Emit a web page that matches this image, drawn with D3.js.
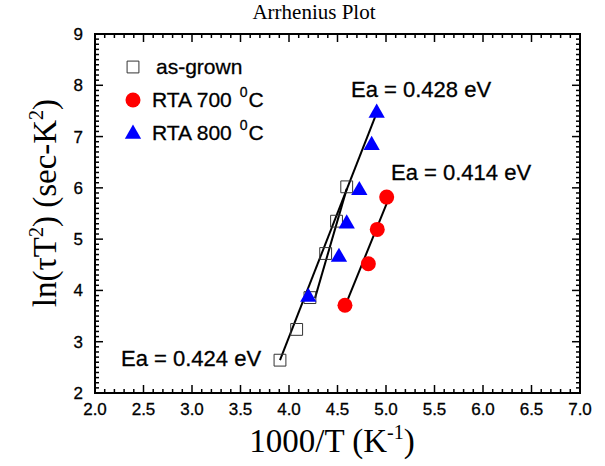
<!DOCTYPE html>
<html>
<head>
<meta charset="utf-8">
<script src="https://cdn.jsdelivr.net/npm/d3@7"></script>
<style>
  body { margin: 0; background: #fff; }
  svg { display: block; }
</style>
</head>
<body>
<div id="chart"></div>
<script>
const WIDTH = 605;
const HEIGHT = 466;

// datos
const asGrownX = [3.907, 4.079, 4.216, 4.378, 4.49, 4.595];
const asGrownY = [2.64, 3.24, 3.86, 4.72, 5.35, 6.02];
const rta700X = [4.577, 4.818, 4.91, 5.007];
const rta700Y = [3.71, 4.52, 5.19, 5.82];
const rta800X = [4.199, 4.515, 4.595, 4.725, 4.852, 4.904];
const rta800Y = [3.89, 4.67, 5.32, 5.97, 6.85, 7.48];

// rectas de ajuste (extremos leidos)
const fitLongX = [3.907, 4.897];
const fitLongY = [2.64, 7.43];
const fitShortX = [4.268, 4.595];
const fitShortY = [3.85, 5.98];
const fit700X = [4.577, 5.034];
const fit700Y = [3.69, 5.82];

const xTicks = [2.0, 2.5, 3.0, 3.5, 4.0, 4.5, 5.0, 5.5, 6.0, 6.5, 7.0];
const yTicks = [2, 3, 4, 5, 6, 7, 8, 9];

const legendNames = ["as-grown", "RTA 700 ", "RTA 800 "];
const eaLabels = ["Ea = 0.428 eV", "Ea = 0.414 eV", "Ea = 0.424 eV"];

const margin = { left: 95, right: 25, top: 34, bottom: 73 };

const x = d3.scaleLinear().domain([2, 7]).range([margin.left, WIDTH - margin.right]);
const y = d3.scaleLinear().domain([2, 9]).range([HEIGHT - margin.bottom, margin.top]);

const svg = d3.select("#chart")
    .append("svg")
    .attr("width", WIDTH)
    .attr("height", HEIGHT);

const fuente = "'Liberation Sans', Arial, sans-serif";
const serif = "'Liberation Serif', 'Times New Roman', serif";

// titulo
svg.append("text")
    .attr("x", 314)
    .attr("y", 19)
    .attr("text-anchor", "middle")
    .style("font-family", serif)
    .style("font-size", "21px")
    .text("Arrhenius Plot");

// ejes con ticks hacia adentro
const minorX = d3.range(20, 71).map(d => d / 10);
const minorY = d3.range(20, 91).map(d => d / 10);

function ejes() {
    const x0 = x.range()[0], x1 = x.range()[1];
    const y0 = y.range()[0], y1 = y.range()[1];
    const g = svg.append("g").attr("stroke", "#000").attr("stroke-width", 1.5);

    minorX.forEach(function(v) {
        const major = Math.abs(v * 2 - Math.round(v * 2)) < 1e-6;
        const len = major ? 8 : 4;
        g.append("line").attr("x1", x(v)).attr("x2", x(v)).attr("y1", y0).attr("y2", y0 - len);
        g.append("line").attr("x1", x(v)).attr("x2", x(v)).attr("y1", y1).attr("y2", y1 + len);
    });
    minorY.forEach(function(v) {
        const major = Math.abs(v - Math.round(v)) < 1e-6;
        const len = major ? 8 : 4;
        g.append("line").attr("y1", y(v)).attr("y2", y(v)).attr("x1", x0).attr("x2", x0 + len);
        g.append("line").attr("y1", y(v)).attr("y2", y(v)).attr("x1", x1).attr("x2", x1 - len);
    });

    svg.append("rect")
        .attr("x", x0).attr("y", y1)
        .attr("width", x1 - x0).attr("height", y0 - y1)
        .attr("fill", "none")
        .attr("stroke", "#000")
        .attr("stroke-width", 2);

    svg.selectAll(".xlab")
        .data(xTicks)
        .enter().append("text")
        .attr("x", d => x(d))
        .attr("y", y0 + 22)
        .attr("text-anchor", "middle")
        .style("font-family", fuente)
        .style("font-size", "17px")
        .style("stroke", "#000")
        .style("stroke-width", 0.3)
        .text(d => d.toFixed(1));

    svg.selectAll(".ylab")
        .data(yTicks)
        .enter().append("text")
        .attr("x", x0 - 12)
        .attr("y", d => y(d) + 6)
        .attr("text-anchor", "end")
        .style("font-family", fuente)
        .style("font-size", "17px")
        .style("stroke", "#000")
        .style("stroke-width", 0.3)
        .text(d => d);
}
ejes();

// titulos de ejes
const xTitle = svg.append("text")
    .attr("x", 332)
    .attr("y", 452)
    .attr("text-anchor", "middle")
    .style("font-family", serif)
    .style("font-size", "33px");
xTitle.append("tspan").text("1000/T (K");
xTitle.append("tspan").attr("dy", -13).style("font-size", "20px").text("-1");
xTitle.append("tspan").attr("dy", 13).text(")");

const yTitle = svg.append("text")
    .attr("transform", "translate(56,203) rotate(-90)")
    .attr("text-anchor", "middle")
    .style("font-family", serif)
    .style("font-size", "33px");
yTitle.append("tspan").text("ln(\u03C4T");
yTitle.append("tspan").attr("dy", -13).style("font-size", "20px").text("2");
yTitle.append("tspan").attr("dy", 13).text(") (sec-K");
yTitle.append("tspan").attr("dy", -13).style("font-size", "20px").text("2");
yTitle.append("tspan").attr("dy", 13).text(")");

// rectas de ajuste
const lineas = [
    d3.zip(fitLongX, fitLongY),
    d3.zip(fitShortX, fitShortY),
    d3.zip(fit700X, fit700Y)
];
const linea = d3.line().x(d => x(d[0])).y(d => y(d[1]));
svg.selectAll(".fit")
    .data(lineas)
    .enter().append("path")
    .attr("d", linea)
    .attr("fill", "none")
    .attr("stroke", "#000")
    .attr("stroke-width", 2);

// marcadores
const cuadrado = d3.symbol().type(d3.symbolSquare).size(140);
const triangulo = d3.symbol().type(d3.symbolTriangle).size(115);

svg.selectAll(".sq")
    .data(d3.zip(asGrownX, asGrownY))
    .enter().append("path")
    .attr("d", cuadrado)
    .attr("transform", d => `translate(${x(d[0])},${y(d[1])})`)
    .attr("fill", "none")
    .attr("stroke", "#333")
    .attr("stroke-width", 1);

svg.selectAll(".ci")
    .data(d3.zip(rta700X, rta700Y))
    .enter().append("circle")
    .attr("cx", d => x(d[0]))
    .attr("cy", d => y(d[1]))
    .attr("r", 7.5)
    .attr("fill", "#ff0000");

svg.selectAll(".tr")
    .data(d3.zip(rta800X, rta800Y))
    .enter().append("path")
    .attr("d", triangulo)
    .attr("transform", d => `translate(${x(d[0])},${y(d[1]) + 1})`)
    .attr("fill", "#0000ff");

// leyenda
const ly = [67, 100, 133];
svg.append("path").attr("d", cuadrado).attr("transform", `translate(133,${ly[0]})`)
    .attr("fill", "none").attr("stroke", "#333").attr("stroke-width", 1);
svg.append("circle").attr("cx", 133).attr("cy", ly[1]).attr("r", 7.5).attr("fill", "#ff0000");
svg.append("path").attr("d", triangulo).attr("transform", `translate(133,${ly[2] + 1})`).attr("fill", "#0000ff");

legendNames.forEach(function(n, i) {
    const t = svg.append("text")
        .attr("x", i === 0 ? 156 : 152)
        .attr("y", ly[i] + 7)
        .style("font-family", fuente)
        .style("font-size", "21px")
        .style("stroke", "#000")
        .style("stroke-width", 0.3)
        .text(n);
    if (i > 0) {
        t.append("tspan").attr("dx", 2).attr("dy", -10).style("font-size", "14px").text("0");
        t.append("tspan").attr("dx", 1).attr("dy", 10).text("C");
    }
});

// etiquetas de energia de activacion
const eaPos = [[351, 97], [391, 180], [121, 366]];
eaLabels.forEach(function(l, i) {
    svg.append("text")
        .attr("x", eaPos[i][0])
        .attr("y", eaPos[i][1])
        .style("font-family", fuente)
        .style("font-size", "22px")
        .style("stroke", "#000")
        .style("stroke-width", 0.3)
        .text(l);
});
</script>
</body>
</html>
